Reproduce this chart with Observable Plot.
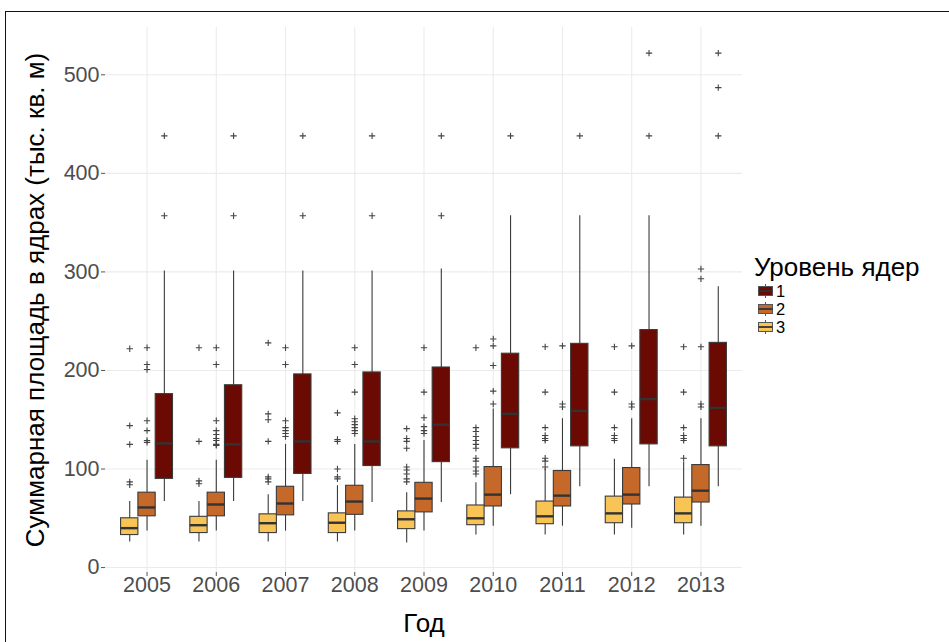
<!DOCTYPE html>
<html>
<head>
<meta charset="utf-8">
<script src="https://cdn.jsdelivr.net/npm/d3@7"></script>
<script src="https://cdn.jsdelivr.net/npm/@observablehq/plot@0.6"></script>
<style>
  html, body { margin: 0; padding: 0; background: #fff; }
  #wrap { position: relative; width: 949px; height: 642px; overflow: hidden; font-family: "Liberation Sans", Arial, sans-serif; }
  #frame { position: absolute; left: 5px; top: 11px; right: -10px; bottom: -10px; border-left: 1px solid #111; border-top: 1px solid #111; pointer-events: none; }
  #chart { position: absolute; left: 0; top: 0; }
  #legend { position: absolute; left: 750px; top: 244px; }
</style>
</head>
<body>
<div id="wrap">
  <div id="chart"></div>
  <div id="legend"></div>
  <div id="frame"></div>
</div>
<script>
// ---- data ----
const years = [2005, 2006, 2007, 2008, 2009, 2010, 2011, 2012, 2013];
const levels = ["1", "2", "3"];
const levelColors = ["#6B0903", "#C4692A", "#F8C456"];
const yTicks = [0, 100, 200, 300, 400, 500];
const xTitle = "Год";
const yTitle = "Суммарная площадь в ядрах (тыс. кв. м)";
const legendTitle = "Уровень ядер";

// level 1
const lo1  = [67, 67, 67, 66, 66, 74, 82, 82, 82];
const q1_1 = [90, 91, 95, 103, 107, 121, 123, 125, 123];
const med1 = [126, 125, 128, 128, 145, 156, 159, 171, 162];
const q3_1 = [176, 185, 196, 198, 203, 217, 227, 241, 228];
const hi1  = [301, 301, 301, 301, 303, 357, 357, 357, 285];
const out1 = [[357, 438], [357, 438], [357, 438], [357, 438], [357, 438], [438], [438], [438, 522], [438, 487, 522]];

// level 2
const lo2  = [37, 37, 37, 37, 37, 42, 42, 40, 42];
const q1_2 = [52, 52, 53, 53.5, 56, 62, 62, 64, 66];
const med2 = [61, 64, 65, 67, 70, 74, 73, 74, 78];
const q3_2 = [76, 76, 82, 83, 86, 102, 98, 101, 104];
const hi2  = [109, 109, 125, 125, 129, 161, 151, 151, 151];
const out2 = [
  [127, 129, 139, 149, 201, 206, 223],
  [124, 125, 129, 131, 135, 139, 149, 206, 223],
  [133, 136, 139, 142, 149, 206, 223],
  [136, 139, 142, 145, 148, 151, 178, 206, 223],
  [136, 139, 143, 152, 178, 223],
  [166, 179, 205, 225, 232],
  [163, 166, 225],
  [163, 166, 225],
  [163, 166, 224, 293, 303]
];

// level 3
const lo3  = [26, 26, 26, 26, 25, 33, 33, 33, 33];
const q1_3 = [33, 35, 35, 35, 39, 43, 44, 45, 45];
const med3 = [40, 43, 45, 45.5, 49, 50, 52, 55, 55];
const q3_3 = [50, 51.5, 54, 55, 57, 63, 67, 72, 71];
const hi3  = [67, 67, 74, 83, 76, 86, 100, 110, 107];
const out3 = [
  [84, 87, 125, 144, 222],
  [85, 88, 128, 223],
  [87, 90, 92, 128, 150, 156, 228],
  [90, 92, 100, 128, 130, 157],
  [87, 90, 95, 99, 102, 121, 128, 131, 141],
  [95, 98, 102, 108, 111, 121, 125, 129, 133, 138, 142, 223],
  [102, 108, 111, 129, 131, 134, 142, 178, 224],
  [129, 131, 134, 142, 178, 224],
  [111, 129, 131, 134, 142, 178, 224]
];

// ---- build tables ----
const series = {
  "1": {lo: lo1, q1: q1_1, med: med1, q3: q3_1, hi: hi1, out: out1},
  "2": {lo: lo2, q1: q1_2, med: med2, q3: q3_2, hi: hi2, out: out2},
  "3": {lo: lo3, q1: q1_3, med: med3, q3: q3_3, hi: hi3, out: out3}
};
// dodge order left-to-right: 3, 2, 1 (ggplot dodge width 0.75)
const dodgeIndex = {"3": -1, "2": 0, "1": 1};
const boxW = 0.25;

const stats = [];
const outliers = [];
for (const lv of levels) {
  const s = series[lv];
  years.forEach((yr, i) => {
    stats.push({year: yr, level: lv, lo: s.lo[i], q1: s.q1[i], med: s.med[i], q3: s.q3[i], hi: s.hi[i]});
    s.out[i].forEach(v => outliers.push({year: yr, level: lv, value: v}));
  });
}
const cx = d => d.year + dodgeIndex[d.level] * boxW;
const bx1 = d => cx(d) - boxW / 2;
const bx2 = d => cx(d) + boxW / 2;

const color = {domain: levels, range: levelColors};

const chart = Plot.plot({
  width: 949,
  height: 642,
  marginLeft: 105,
  marginRight: 207,
  marginTop: 27,
  marginBottom: 70,
  style: {fontFamily: "'Liberation Sans', Arial, sans-serif", fontSize: "21px", color: "#4d4d4d", background: "transparent"},
  x: {type: "linear", domain: [years[0] - 0.6, years[years.length - 1] + 0.6]},
  y: {domain: [-5, 548]},
  color,
  marks: [
    Plot.gridY(yTicks, {stroke: "#ebebeb", strokeOpacity: 1, strokeWidth: 1.1}),
    Plot.gridX(years, {stroke: "#ebebeb", strokeOpacity: 1, strokeWidth: 1.1}),
    Plot.axisY({ticks: yTicks, tickSize: 4, tickPadding: 2, label: null, fontSize: 21.5, stroke: "#555"}),
    Plot.axisX({ticks: years, tickFormat: d => String(d), tickSize: 4, tickPadding: 0, label: null, fontSize: 21.5, stroke: "#555"}),
    Plot.ruleX(stats, {x: cx, y1: "lo", y2: "q1", stroke: "#3a3a3a", strokeWidth: 1.1}),
    Plot.ruleX(stats, {x: cx, y1: "q3", y2: "hi", stroke: "#3a3a3a", strokeWidth: 1.1}),
    Plot.rect(stats, {x1: bx1, x2: bx2, y1: "q1", y2: "q3", fill: "level", stroke: "#3a3a3a", strokeWidth: 1.1}),
    Plot.ruleY(stats, {y: "med", x1: bx1, x2: bx2, stroke: "#333", strokeWidth: 2.4}),
    Plot.dot(outliers, {x: cx, y: "value", symbol: "plus", r: 2.2, stroke: "#444", strokeWidth: 1.1}),
    Plot.text([yTitle], {frameAnchor: "left", textAnchor: "middle", lineAnchor: "middle", dx: -70, rotate: -90, fontSize: 26, fill: "#000"}),
    Plot.text([xTitle], {frameAnchor: "bottom", lineAnchor: "bottom", dy: 59, fontSize: 26, fill: "#000"})
  ]
});
document.getElementById("chart").appendChild(chart);

// ---- legend (boxplot key glyphs) ----
const ns = "http://www.w3.org/2000/svg";
const lg = document.createElementNS(ns, "svg");
lg.setAttribute("width", 195);
lg.setAttribute("height", 104);
lg.style.fontFamily = "'Liberation Sans', Arial, sans-serif";
const t = document.createElementNS(ns, "text");
t.setAttribute("x", 4); t.setAttribute("y", 32);
t.setAttribute("font-size", 26); t.setAttribute("fill", "#000");
t.textContent = legendTitle;
lg.appendChild(t);
levels.forEach((lv, i) => {
  const cy = 47 + i * 18;
  const g = document.createElementNS(ns, "g");
  const wl = document.createElementNS(ns, "line");
  wl.setAttribute("x1", 15.5); wl.setAttribute("x2", 15.5);
  wl.setAttribute("y1", cy - 7); wl.setAttribute("y2", cy + 7);
  wl.setAttribute("stroke", "#555"); wl.setAttribute("stroke-width", 1);
  g.appendChild(wl);
  const r = document.createElementNS(ns, "rect");
  r.setAttribute("x", 8.5); r.setAttribute("y", cy - 4.5);
  r.setAttribute("width", 14); r.setAttribute("height", 9);
  r.setAttribute("fill", levelColors[i]); r.setAttribute("stroke", "#555"); r.setAttribute("stroke-width", 1);
  g.appendChild(r);
  const m = document.createElementNS(ns, "line");
  m.setAttribute("x1", 8.5); m.setAttribute("x2", 22.5);
  m.setAttribute("y1", cy); m.setAttribute("y2", cy);
  m.setAttribute("stroke", "#333"); m.setAttribute("stroke-width", 1.8);
  g.appendChild(m);
  const lt = document.createElementNS(ns, "text");
  lt.setAttribute("x", 26); lt.setAttribute("y", cy + 6);
  lt.setAttribute("font-size", 16.5); lt.setAttribute("fill", "#000");
  lt.textContent = lv;
  g.appendChild(lt);
  lg.appendChild(g);
});
document.getElementById("legend").appendChild(lg);
</script>
</body>
</html>
